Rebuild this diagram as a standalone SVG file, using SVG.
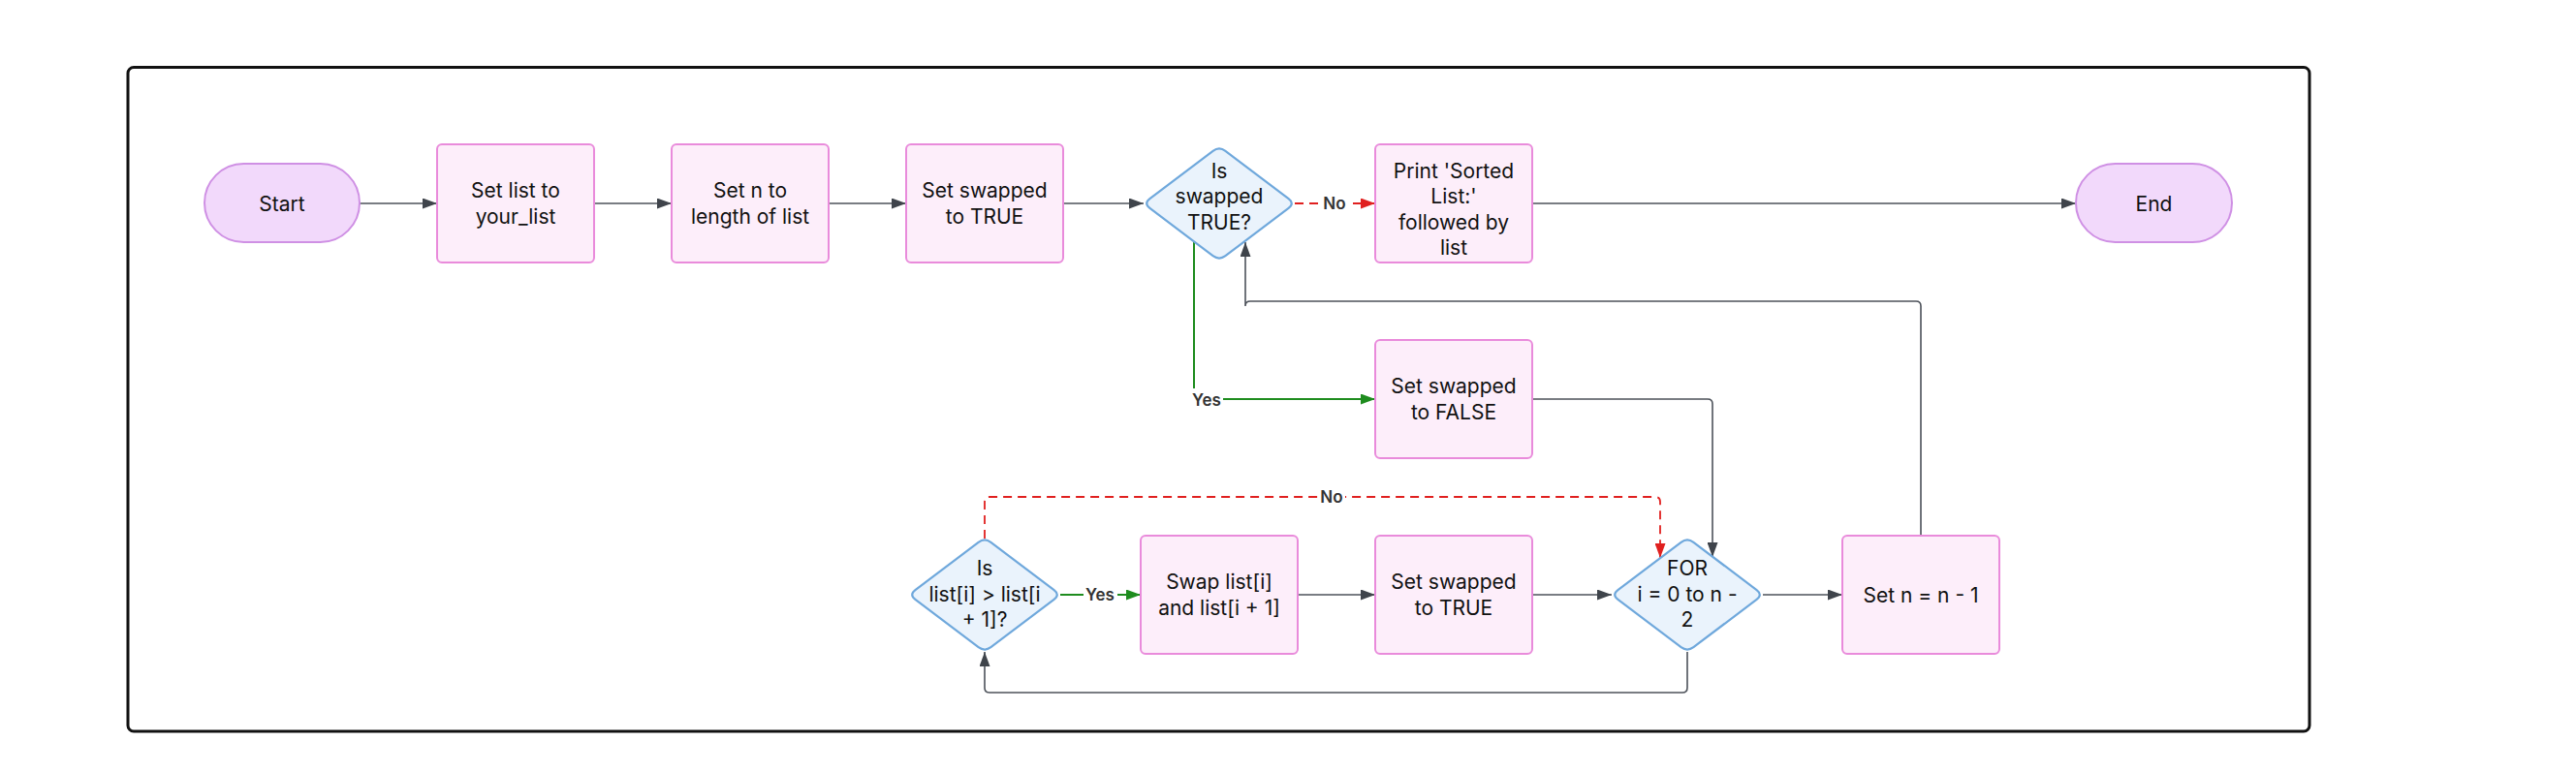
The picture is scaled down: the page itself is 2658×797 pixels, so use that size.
<svg xmlns="http://www.w3.org/2000/svg" xmlns:xlink="http://www.w3.org/1999/xlink" width="2658" height="797" viewBox="0 0 2658 797">
<style>
.box{fill:#fdeefa;stroke:#e98bdb;stroke-width:2}
.term{fill:#f2d9fb;stroke:#cf90e4;stroke-width:2}
.dia{fill:#eaf3fc;stroke:#6fa8dc;stroke-width:2.2}
.t{font-family:Inter,"Liberation Sans",sans-serif;font-size:21px;fill:#111;text-anchor:middle}
.lbl{font-family:Inter,"Liberation Sans",sans-serif;font-size:17px;font-weight:600;fill:#333;text-anchor:middle}
.lb{fill:#fff}
.e{fill:none;stroke:#4d525a;stroke-width:1.6}
.g{fill:none;stroke:#1e8c1e;stroke-width:2}
.r{fill:none;stroke:#e0201f;stroke-width:1.8;stroke-dasharray:9 6}
</style>
<defs>
<path id="dm" d="M-6.4,-54.2 Q0,-59 6.4,-54.2 L71.6,-4.8 Q78,0 71.6,4.8 L6.4,54.2 Q0,59 -6.4,54.2 L-71.6,4.8 Q-78,0 -71.6,-4.8 Z"/>
<marker id="ag" viewBox="0 0 15 11" refX="15" refY="5.5" markerWidth="15" markerHeight="11" markerUnits="userSpaceOnUse" orient="auto"><path d="M0,0 L15,5.5 L0,11 z" fill="#3f444b"/></marker>
<marker id="agr" viewBox="0 0 15 11" refX="15" refY="5.5" markerWidth="15" markerHeight="11" markerUnits="userSpaceOnUse" orient="auto"><path d="M0,0 L15,5.5 L0,11 z" fill="#1e8c1e"/></marker>
<marker id="ar" viewBox="0 0 15 11" refX="15" refY="5.5" markerWidth="15" markerHeight="11" markerUnits="userSpaceOnUse" orient="auto"><path d="M0,0 L15,5.5 L0,11 z" fill="#e0201f"/></marker>
</defs>
<rect x="0" y="0" width="2658" height="797" fill="#fff"/>
<rect id="frame" x="132" y="69.5" width="2251" height="685.5" rx="6" fill="none" stroke="#111" stroke-width="3"/>

<g id="connectors">
<path class="e" d="M371,210 L451,210" marker-end="url(#ag)"/>
<path class="e" d="M613,210 L693,210" marker-end="url(#ag)"/>
<path class="e" d="M855,210 L935,210" marker-end="url(#ag)"/>
<path class="e" d="M1097,210 L1180,210" marker-end="url(#ag)"/>
<path class="r" d="M1336,210 L1419,210" marker-end="url(#ar)"/>
<path class="e" d="M1581,210 L2142,210" marker-end="url(#ag)"/>
<path class="g" d="M1232,249 L1232,412 L1419,412" marker-end="url(#agr)"/>
<path class="e" d="M1581,412 L1762,412 Q1767,412 1767,417 L1767,575" marker-end="url(#ag)"/>
<path class="r" d="M1016,556 L1016,518 Q1016,513 1021,513 L1708,513 Q1713,513 1713,518 L1713,576" marker-end="url(#ar)"/>
<path class="g" d="M1094,614 L1177,614" marker-end="url(#agr)"/>
<path class="e" d="M1339,614 L1419,614" marker-end="url(#ag)"/>
<path class="e" d="M1581,614 L1663,614" marker-end="url(#ag)"/>
<path class="e" d="M1819,614 L1901,614" marker-end="url(#ag)"/>
<path class="e" d="M1741,673 L1741,710 Q1741,715 1736,715 L1021,715 Q1016,715 1016,710 L1016,673" marker-end="url(#ag)"/>
<path class="e" d="M1982,553 L1982,316 Q1982,311 1977,311 L1290,311 Q1285,311 1285,316 L1285,250" marker-end="url(#ag)"/>
<rect class="lb" x="1363" y="200" width="28" height="20"/>
<text class="lbl" x="1377" y="216">No</text>
<rect class="lb" x="1227" y="401" width="35" height="21"/>
<text class="lbl" x="1245" y="418.5">Yes</text>
<rect class="lb" x="1118" y="604" width="35" height="20"/>
<text class="lbl" x="1135" y="620">Yes</text>
<rect class="lb" x="1360" y="503" width="28" height="20"/>
<text class="lbl" x="1374" y="519">No</text>
</g>

<g id="start"><rect class="term" x="211" y="169" width="160" height="81" rx="40.5"/><text class="t" x="291" y="217.5">Start</text></g>
<g id="setList"><rect class="box" x="451" y="149" width="162" height="122" rx="5"/><text class="t" x="532" y="204.3">Set list to</text><text class="t" x="532" y="230.8">your_list</text></g>
<g id="setN"><rect class="box" x="693" y="149" width="162" height="122" rx="5"/><text class="t" x="774" y="204.3">Set n to</text><text class="t" x="774" y="230.8">length of list</text></g>
<g id="setSwappedTrue"><rect class="box" x="935" y="149" width="162" height="122" rx="5"/><text class="t" x="1016" y="204.3">Set swapped</text><text class="t" x="1016" y="230.8">to TRUE</text></g>
<g id="isSwapped"><use href="#dm" xlink:href="#dm" class="dia" transform="translate(1258,210)"/><text class="t" x="1258" y="183.6">Is</text><text class="t" x="1258" y="210.1">swapped</text><text class="t" x="1258" y="236.6">TRUE?</text></g>
<g id="print"><rect class="box" x="1419" y="149" width="162" height="122" rx="5"/><text class="t" x="1500" y="183.6">Print 'Sorted</text><text class="t" x="1500" y="210.1">List:'</text><text class="t" x="1500" y="236.6">followed by</text><text class="t" x="1500" y="263.1">list</text></g>
<g id="end"><rect class="term" x="2142" y="169" width="161" height="81" rx="40.5"/><text class="t" x="2222.5" y="217.5">End</text></g>
<g id="setSwappedFalse"><rect class="box" x="1419" y="351" width="162" height="122" rx="5"/><text class="t" x="1500" y="406.3">Set swapped</text><text class="t" x="1500" y="432.8">to FALSE</text></g>
<g id="isGreater"><use href="#dm" xlink:href="#dm" class="dia" transform="translate(1016,614)"/><text class="t" x="1016" y="594.1">Is</text><text class="t" x="1016" y="620.6">list[i] &gt; list[i</text><text class="t" x="1016" y="647.1">+ 1]?</text></g>
<g id="swap"><rect class="box" x="1177" y="553" width="162" height="122" rx="5"/><text class="t" x="1258" y="608.3">Swap list[i]</text><text class="t" x="1258" y="634.8">and list[i + 1]</text></g>
<g id="setSwappedTrue2"><rect class="box" x="1419" y="553" width="162" height="122" rx="5"/><text class="t" x="1500" y="608.3">Set swapped</text><text class="t" x="1500" y="634.8">to TRUE</text></g>
<g id="forLoop"><use href="#dm" xlink:href="#dm" class="dia" transform="translate(1741,614)"/><text class="t" x="1741" y="594.1">FOR</text><text class="t" x="1741" y="620.6">i = 0 to n -</text><text class="t" x="1741" y="647.1">2</text></g>
<g id="decN"><rect class="box" x="1901" y="553" width="162" height="122" rx="5"/><text class="t" x="1982" y="621.6">Set n = n - 1</text></g>
</svg>
